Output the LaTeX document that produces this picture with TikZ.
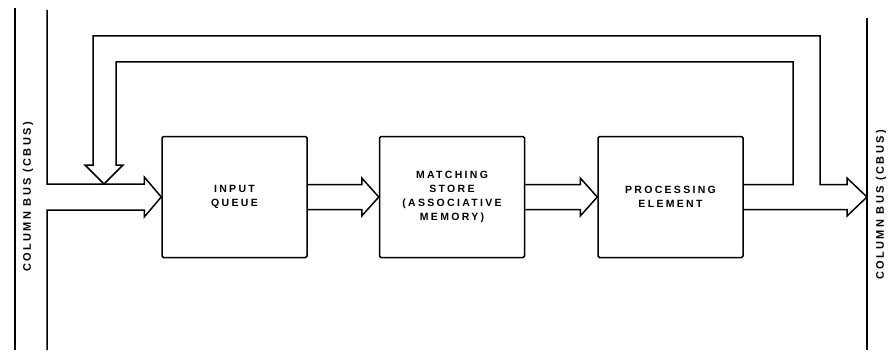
\documentclass[tikz,border=0pt]{standalone}
\usepackage{fontspec}
\newfontfamily\diagfont{Liberation Sans}[LetterSpace=22]
\usepackage{tikz}
\usetikzlibrary{positioning,calc}
\tikzset{
  unit/.style={rectangle, rounded corners=1.5pt, draw, line width=1.5pt,
               minimum width=145pt, minimum height=121pt, align=center, inner sep=0pt,
               font=\diagfont\bfseries\fontsize{10.5}{14}\selectfont},
  busline/.style={line width=1.5pt},
  widebus/.style={line width=1.5pt, line join=miter},
  buslabel/.style={rotate=90, font=\diagfont\bfseries\fontsize{11}{12}\selectfont}
}

\begin{document}
\begin{tikzpicture}[x=1pt,y=-1pt]
\useasboundingbox (0,0) rectangle (891,353);
\node[unit] (iq) at (234.5,197) {INPUT\\QUEUE};
\node[unit, right=71pt of iq] (ms) {MATCHING\\STORE\\(ASSOCIATIVE\\MEMORY)};
\node[unit, right=72pt of ms] (pe) {PROCESSING\\ELEMENT};
\coordinate (lin) at (47,197);
\coordinate (rin) at (867,197);
\coordinate (fbtip) at (104,184);
\draw[busline] (15,8) -- (15,350);
\draw[busline] (867,18) -- (867,350);
\node[buslabel] (lbl) at (28,197) {COLUMN BUS (CBUS)};
\node[buslabel] (rbl) at (881,205) {COLUMN BUS (CBUS)};
\draw[widebus] (47,10) -- ($(lin)+(0,-13)$) -- ($(iq.west)+(-17,-13)$) -- ++(0,-7)
  -- (iq.west) -- ($(iq.west)+(-17,20)$) -- ++(0,-7) -- ($(lin)+(0,13)$) -- (47,350);
\foreach \a/\b in {iq/ms, ms/pe} {
  \draw[widebus] ($(\a.east)+(0,-12.5)$) -- ($(\b.west)+(-17,-12.5)$) -- ++(0,-6.5)
    -- (\b.west) -- ($(\b.west)+(-17,19)$) -- ++(0,-6.5) -- ($(\a.east)+(0,12.5)$);
}
\draw[widebus] ($(pe.east)+(0,-12.5)$) -| (793,62) -| (116,165) -- (123,165) -- (fbtip)
  -- (85,165) -- (93,165) |- (820,36) |- ($(rin)+(-20,-12.5)$) -- ($(rin)+(-20,-19)$)
  -- (rin) -- ($(rin)+(-20,19)$) -- ($(rin)+(-20,12.5)$) -- ($(pe.east)+(0,12.5)$);
\end{tikzpicture}
\end{document}
